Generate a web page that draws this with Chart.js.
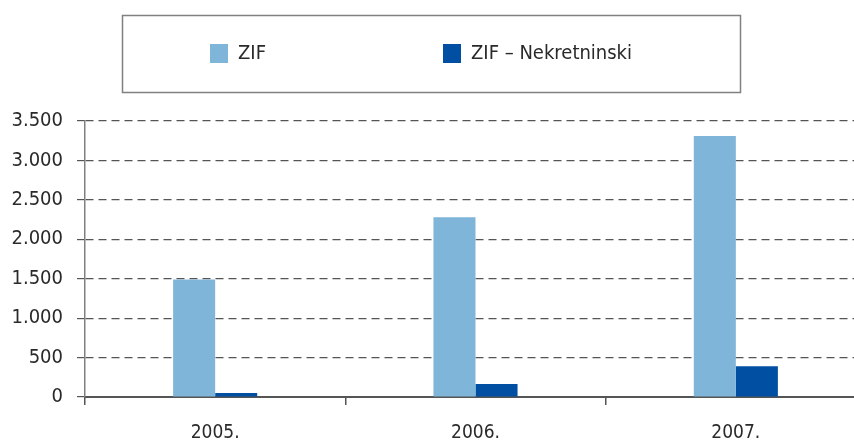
<!DOCTYPE html>
<html>
<head>
<meta charset="utf-8">
<script src="https://cdn.jsdelivr.net/npm/chart.js@4/dist/chart.umd.min.js"></script>
<style>
  html, body { margin: 0; padding: 0; background: #fff; overflow: hidden; }
  #wrap { width: 854px; height: 444px; overflow: hidden; position: relative; }
  #box { width: 866px; height: 444px; position: absolute; left: 0; top: 0; }
</style>
</head>
<body>
<div id="wrap"><div id="box"><canvas id="c"></canvas></div></div>
<script>
const categories = ['2005.', '2006.', '2007.'];
const seriesNames = ['ZIF', 'ZIF \u2013 Nekretninski'];
const zifValues = [1490, 2280, 3310];
const nekretninskiValues = [50, 165, 390];
const yTickValues = [0, 500, 1000, 1500, 2000, 2500, 3000, 3500];
const colors = ['#7EB5D8', '#004FA2'];

const FONT = '"DejaVu Sans Condensed", "Liberation Sans Narrow", sans-serif';

function fmt(v) {
  return String(v).replace(/\B(?=(\d{3})+(?!\d))/g, '.');
}

const legendBox = {
  id: 'legendBox',
  afterDraw(chart) {
    const ctx = chart.ctx;
    ctx.save();
    ctx.strokeStyle = '#808080';
    ctx.lineWidth = 1.5;
    ctx.strokeRect(122.5, 15.5, 618, 77);
    const items = [{ x: 210 }, { x: 443 }];
    chart.data.datasets.forEach((ds, i) => {
      ctx.fillStyle = ds.backgroundColor;
      ctx.fillRect(items[i].x, 44, 18, 19);
      ctx.fillStyle = '#2a2a2a';
      ctx.font = '20px ' + FONT;
      ctx.textBaseline = 'middle';
      ctx.textAlign = 'left';
      ctx.fillText(ds.label, items[i].x + 28, 54);
    });
    ctx.restore();
  }
};

new Chart(document.getElementById('c'), {
  type: 'bar',
  data: {
    labels: categories,
    datasets: [
      { label: seriesNames[0], data: zifValues, backgroundColor: colors[0], barPercentage: 1, categoryPercentage: 0.323 },
      { label: seriesNames[1], data: nekretninskiValues, backgroundColor: colors[1], barPercentage: 1, categoryPercentage: 0.323 }
    ]
  },
  options: {
    responsive: true,
    maintainAspectRatio: false,
    animation: false,
    layout: { padding: { top: 121, left: 0, right: 0, bottom: 0 } },
    plugins: { legend: { display: false }, tooltip: { enabled: false } },
    scales: {
      x: {
        offset: true,
        grid: {
          offset: true,
          drawOnChartArea: false,
          drawTicks: true,
          tickLength: 8,
          color: '#555',
          lineWidth: 1.5
        },
        border: { display: true, color: '#555', width: 2 },
        ticks: { color: '#2a2a2a', font: { family: FONT, size: 19 }, padding: 17 },
        afterFit(scale) { scale.height = 47; }
      },
      y: {
        min: 0,
        max: 3500,
        afterBuildTicks(scale) { scale.ticks = yTickValues.map(v => ({ value: v })); },
        grid: {
          color: '#555',
          lineWidth: 1.2,
          drawTicks: true,
          tickLength: 8,
          tickBorderDash: [],
          tickColor: '#555'
        },
        border: { display: true, color: '#808080', width: 1.5, dash: [8, 5] },
        ticks: {
          color: '#2a2a2a',
          font: { family: FONT, size: 20 },
          padding: 14,
          callback: (v) => fmt(v)
        },
        afterFit(scale) { scale.width = 85; }
      }
    }
  },
  plugins: [legendBox]
});
</script>
</body>
</html>
